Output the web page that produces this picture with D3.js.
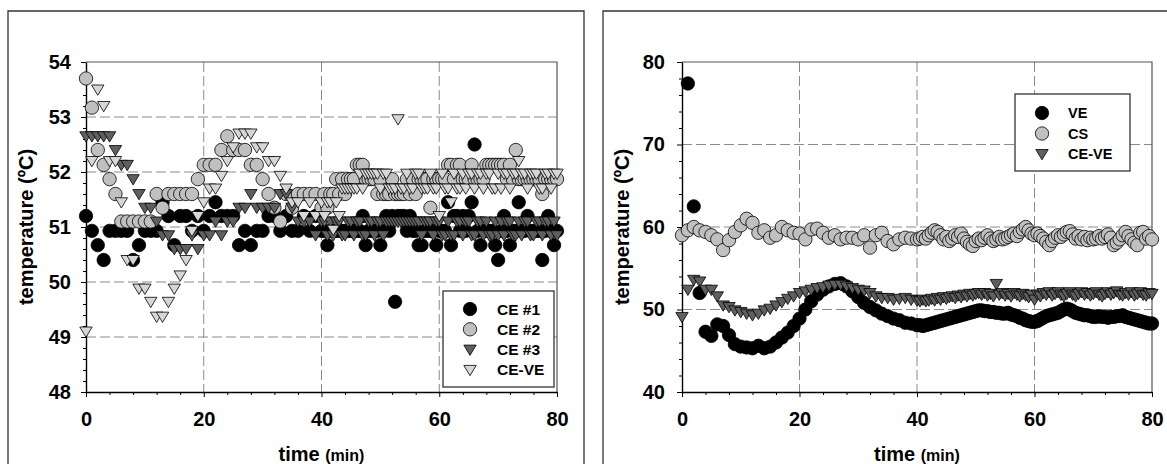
<!DOCTYPE html>
<html>
<head>
<meta charset="utf-8">
<script src="https://cdnjs.cloudflare.com/ajax/libs/d3/7.8.5/d3.min.js"></script>
<style>
body { margin: 0; background: #fff; }
svg { display: block; font-family: "Liberation Sans", Arial, sans-serif; font-weight: bold; }
</style>
</head>
<body>
<svg id="chart" width="1167" height="464"></svg>
<script>
"use strict";

// sampling times (min): every minute up to 40, then every half minute
var time = [0,1,2,3,4,5,6,7,8,9,10,11,12,13,14,15,16,17,18,19,20,
  21,22,23,24,25,26,27,28,29,30,31,32,33,34,35,36,37,38,39,40,
  40.5,41,41.5,42,42.5,43,43.5,44,44.5,45,45.5,46,46.5,47,47.5,48,48.5,49,49.5,50,
  50.5,51,51.5,52,52.5,53,53.5,54,54.5,55,55.5,56,56.5,57,57.5,58,58.5,59,59.5,60,
  60.5,61,61.5,62,62.5,63,63.5,64,64.5,65,65.5,66,66.5,67,67.5,68,68.5,69,69.5,70,
  70.5,71,71.5,72,72.5,73,73.5,74,74.5,75,75.5,76,76.5,77,77.5,78,78.5,79,79.5,80];

// left panel
var ce1 = [51.2,50.93,50.67,50.4,50.93,50.93,50.93,50.93,50.4,50.67,
  50.93,50.93,50.93,51.45,51.2,50.67,51.2,51.2,50.93,51.2,
  50.93,51.2,51.45,51.2,51.2,51.2,50.67,50.93,50.67,50.93,
  50.93,51.2,51.2,50.93,51.2,50.93,50.93,51.2,50.93,51.2,
  50.93,
  50.93,50.67,50.93,50.93,50.93,50.93,50.93,50.93,50.93,50.93,
  50.93,50.93,50.93,51.2,50.67,50.93,50.93,50.93,50.93,50.67,
  50.93,51.2,50.93,51.2,49.64,51.2,51.2,51.2,50.93,51.2,
  50.93,50.93,50.67,50.67,50.93,50.93,50.93,50.93,50.67,50.93,
  50.93,50.93,51.45,50.67,51.2,51.2,50.93,51.2,50.93,51.2,
  51.45,52.5,50.93,50.67,50.93,50.93,50.93,50.93,50.67,50.4,
  50.93,51.2,50.93,50.67,50.93,50.93,51.45,50.93,50.93,51.2,
  50.93,50.93,50.93,50.93,50.4,50.93,51.2,50.93,50.67,50.93];
var ce2 = [53.7,53.17,52.4,52.13,51.87,51.6,51.1,51.1,51.1,51.1,
  51.1,51.1,51.6,51.35,51.6,51.6,51.6,51.6,51.6,51.87,
  52.13,52.13,52.13,52.4,52.65,52.4,52.4,52.4,52.13,52.13,
  51.87,51.6,51.35,51.1,51.6,51.35,51.6,51.6,51.6,51.6,
  51.35,
  51.6,51.35,51.6,51.6,51.87,51.6,51.87,51.6,51.87,51.87,
  51.87,52.13,52.13,52.13,51.87,51.87,51.87,51.87,51.6,51.87,
  51.6,51.6,51.6,51.87,51.6,51.6,51.6,51.6,51.87,51.6,
  51.87,51.6,51.87,51.87,51.87,51.87,51.35,51.87,51.87,51.87,
  51.87,51.87,52.13,52.13,51.87,52.13,52.13,51.87,51.87,51.87,
  52.13,51.87,51.87,51.87,51.87,52.13,52.13,52.13,52.13,52.13,
  52.13,52.13,51.87,52.13,51.87,52.4,51.87,51.87,51.87,51.87,
  51.87,51.87,51.87,51.87,51.6,51.87,51.87,51.87,51.87,51.87];
var ce3 = [52.65,52.65,52.65,52.65,52.65,52.4,52.13,52.13,51.87,51.6,
  51.35,51.35,51.1,50.85,50.85,50.6,50.6,50.6,50.85,50.6,
  50.85,50.85,51.1,50.85,51.1,51.1,51.35,51.35,51.6,51.35,
  51.35,51.35,51.35,51.6,51.6,51.35,51.1,51.1,51.1,50.85,
  51.1,
  51.1,50.85,51.1,50.85,51.1,51.1,50.85,50.85,51.1,51.1,
  50.85,51.1,51.1,50.85,50.85,51.1,51.1,50.85,51.1,51.1,
  50.85,51.1,51.1,51.1,51.1,51.1,51.1,51.1,51.1,51.1,
  51.1,51.1,51.1,50.85,51.1,51.1,51.1,50.85,51.1,51.1,
  50.85,50.85,51.1,50.85,50.85,51.1,51.1,50.85,51.1,51.1,
  50.85,50.85,51.1,51.1,50.85,51.1,50.85,50.85,51.1,50.85,
  51.1,50.85,51.1,51.1,50.85,50.85,51.1,50.85,51.1,51.1,
  50.85,50.85,51.1,51.1,50.85,51.1,51.1,50.85,51.1,50.85];
var ceveL = [49.1,52.2,53.5,53.2,52.2,52.2,51.45,50.4,50.4,49.88,
  49.88,49.64,49.37,49.37,49.64,49.88,50.12,50.4,50.93,51.2,
  51.45,51.7,51.7,51.93,52.2,52.45,52.7,52.7,52.7,52.45,
  52.45,52.2,52.2,51.93,51.7,51.45,51.45,51.2,51.45,51.2,
  51.45,
  51.2,51.45,51.45,50.95,51.45,51.2,51.7,51.7,51.7,51.7,
  51.7,51.7,51.97,51.7,51.97,51.97,51.97,51.97,51.97,51.7,
  51.97,51.97,51.7,51.7,51.7,52.96,51.7,51.7,51.97,51.7,
  51.7,51.97,51.97,51.7,51.7,51.7,51.97,51.7,51.7,51.2,
  51.97,51.7,51.7,51.45,51.97,51.7,51.7,51.97,51.7,51.97,
  51.97,51.7,51.97,51.97,51.7,51.97,51.97,51.7,51.7,51.97,
  51.7,51.97,51.97,51.7,51.97,51.97,52.2,51.97,51.97,51.7,
  51.97,51.97,51.97,51.7,51.7,51.97,51.97,51.7,51.97,51.97];

// right panel
var ve = [null,77.4,62.5,52.0,47.3,46.8,48.2,48.0,46.9,45.8,
  45.5,45.4,45.3,45.6,45.3,45.5,46.0,46.6,47.2,48.0,
  48.9,50.0,51.0,51.8,52.4,52.8,53.1,53.2,52.8,52.2,
  51.5,50.8,50.3,49.9,49.5,49.2,48.9,48.7,48.4,48.3,
  48.1,
  48.1,48.0,48.1,48.2,48.3,48.4,48.5,48.6,48.7,48.8,
  48.9,49.0,49.1,49.2,49.3,49.4,49.5,49.6,49.7,49.8,
  49.9,49.9,49.8,49.8,49.7,49.7,49.6,49.6,49.5,49.5,
  49.6,49.4,49.3,49.2,49.0,48.9,48.7,48.6,48.5,48.5,
  48.6,48.8,49.0,49.2,49.3,49.4,49.5,49.6,49.8,50.0,
  50.1,50.0,49.8,49.6,49.5,49.4,49.3,49.3,49.2,49.1,
  49.1,49.2,49.1,49.1,49.0,49.1,49.1,49.2,49.2,49.3,
  49.1,49.0,48.9,48.8,48.7,48.6,48.5,48.4,48.3,48.3];
var cs = [59.0,59.6,60.0,59.6,59.4,59.0,58.5,57.2,58.4,59.4,
  60.2,61.0,60.5,59.3,59.6,58.7,59.0,60.0,59.6,59.3,
  59.2,58.5,59.7,59.8,59.3,58.7,59.0,58.5,58.7,58.7,
  58.5,59.0,57.5,59.0,59.3,58.3,57.9,58.5,58.7,58.6,
  58.5,
  58.6,58.8,58.6,59.0,59.3,59.6,59.4,59.0,58.5,58.8,
  58.3,58.6,59.0,58.8,59.2,58.6,58.2,57.9,57.7,58.3,
  58.6,58.4,58.7,59.0,58.6,58.3,58.5,58.8,58.5,58.6,
  58.8,59.0,59.2,58.9,59.4,59.7,60.0,59.6,59.2,59.0,
  59.2,58.9,58.6,58.2,57.8,58.3,58.7,59.0,58.8,59.1,
  59.4,59.5,59.1,58.6,58.9,58.5,58.8,58.4,58.7,58.5,
  58.6,58.9,58.6,58.8,59.1,58.7,57.8,58.1,58.5,59.0,
  59.4,58.9,58.5,58.1,57.8,59.3,59.4,58.6,58.9,58.5];
var ceveR = [49.1,52.4,53.6,53.4,52.4,52.4,51.6,50.5,50.3,49.9,
  49.7,49.5,49.3,49.5,49.9,50.1,50.5,50.9,51.3,51.6,
  52.0,52.2,52.4,52.6,52.7,52.9,53.0,53.0,52.8,52.6,
  52.4,52.3,52.0,51.6,51.4,51.4,51.2,51.3,51.4,51.2,
  51.1,
  51.0,51.2,51.0,51.1,51.3,51.1,51.4,51.2,51.5,51.3,
  51.5,51.6,51.4,51.7,51.5,51.8,51.6,51.9,51.7,51.9,
  52.0,51.8,52.0,51.7,51.9,51.6,53.1,51.8,52.0,51.7,
  51.9,51.6,52.0,51.8,51.6,51.9,51.7,51.5,51.8,51.2,
  51.8,51.6,52.0,51.8,52.1,51.7,51.9,52.1,51.8,51.6,
  51.9,52.1,51.8,51.6,51.9,52.1,51.8,52.0,51.7,51.9,
  52.1,51.8,51.6,51.9,52.1,51.8,52.0,52.2,51.8,51.7,
  52.0,51.8,52.1,51.7,51.9,52.1,51.8,51.7,52.0,51.9];

var xTicks = [0, 20, 40, 60, 80];
var xMinor = [4,8,12,16,24,28,32,36,44,48,52,56,64,68,72,76];
var yTicksL = [48, 49, 50, 51, 52, 53, 54];
var yTicksR = [40, 50, 60, 70, 80];

var triPath = "M-6.2,-4.5L6.2,-4.5L0,5.8Z";
var circlePath = d3.symbol(d3.symbolCircle, 140)();

var svg = d3.select("#chart");

function drawPanel(p) {
  var x = d3.scaleLinear().domain([0, 80]).range([p.left, p.right]);
  var y = d3.scaleLinear().domain(p.yDomain).range([p.bottom, p.top]);
  var g = svg.append("g");

  // outer frame of the panel (cut at the bottom of the picture)
  g.append("path")
    .attr("d", "M" + p.frame[0] + ",470V11H" + p.frame[1] + "V470")
    .attr("fill", "none").attr("stroke", "#333").attr("stroke-width", 1.3);

  // dashed grid
  var yGrid = p.yTicks.slice(1, -1);
  g.selectAll(".vg").data([20, 40, 60]).enter().append("line")
    .attr("x1", function(d) { return x(d); }).attr("x2", function(d) { return x(d); })
    .attr("y1", p.top).attr("y2", p.bottom)
    .attr("stroke", "#8a8a8a").attr("stroke-width", 1).attr("stroke-dasharray", "10,4");
  g.selectAll(".hg").data(yGrid).enter().append("line")
    .attr("x1", p.left).attr("x2", p.right)
    .attr("y1", function(d) { return y(d); }).attr("y2", function(d) { return y(d); })
    .attr("stroke", "#8a8a8a").attr("stroke-width", 1).attr("stroke-dasharray", "10,4");

  // top and right border of the plot
  g.append("path")
    .attr("d", "M" + p.left + "," + p.top + "H" + p.right + "V" + p.bottom)
    .attr("fill", "none").attr("stroke", "#555").attr("stroke-width", 1.2);

  // minor ticks
  g.append("g").attr("transform", "translate(" + p.left + ",0)")
    .call(d3.axisLeft(y).tickValues(p.yMinor).tickSize(3).tickSizeOuter(0).tickFormat(""))
    .call(function(a) { a.select(".domain").remove(); });
  g.append("g").attr("transform", "translate(0," + p.bottom + ")")
    .call(d3.axisBottom(x).tickValues(xMinor).tickSize(3).tickSizeOuter(0).tickFormat(""))
    .call(function(a) { a.select(".domain").remove(); });

  // main axes
  var ya = g.append("g").attr("transform", "translate(" + p.left + ",0)")
    .call(d3.axisLeft(y).tickValues(p.yTicks).tickFormat(d3.format("d"))
      .tickSize(5).tickSizeOuter(0).tickPadding(p.yPad));
  var xa = g.append("g").attr("transform", "translate(0," + p.bottom + ")")
    .call(d3.axisBottom(x).tickValues(xTicks).tickFormat(d3.format("d"))
      .tickSize(5).tickSizeOuter(0).tickPadding(15));
  [ya, xa].forEach(function(a) {
    a.selectAll("text").attr("font-size", 20).attr("font-family", null)
      .attr("font-weight", "bold").attr("fill", "#000");
    a.select(".domain").attr("stroke-width", 1.4);
  });

  // axis titles
  g.append("text")
    .attr("transform", "translate(" + p.yTitleX + "," + ((p.top + p.bottom) / 2) + ") rotate(-90)")
    .attr("text-anchor", "middle").attr("font-size", 20).attr("dy", "0.35em")
    .text("temperature (ºC)");
  var xt = g.append("text")
    .attr("x", (p.left + p.right) / 2).attr("y", 461)
    .attr("text-anchor", "middle");
  xt.append("tspan").attr("font-size", 20).text("time ");
  xt.append("tspan").attr("font-size", 16).text("(min)");

  // data
  p.series.forEach(function(s) {
    var pts = time.map(function(t, i) { return [t, s.values[i]]; })
      .filter(function(d) { return d[1] != null; });
    g.append("g").selectAll("path").data(pts).enter().append("path")
      .attr("transform", function(d) { return "translate(" + x(d[0]) + "," + y(d[1]) + ")"; })
      .attr("d", s.shape === "tri" ? triPath : circlePath)
      .attr("fill", s.fill).attr("stroke", "#000").attr("stroke-width", 0.8);
  });

  // legend
  var L = p.legend;
  g.append("rect")
    .attr("x", L.x).attr("y", L.y).attr("width", L.w).attr("height", L.h)
    .attr("fill", "#fff").attr("stroke", "#333").attr("stroke-width", 1.3);
  p.series.forEach(function(s, i) {
    var cy = L.y + L.first + i * L.step;
    g.append("path")
      .attr("transform", "translate(" + (L.x + L.mx) + "," + cy + ")")
      .attr("d", s.shape === "tri" ? triPath : circlePath)
      .attr("fill", s.fill).attr("stroke", "#000").attr("stroke-width", 0.8);
    g.append("text")
      .attr("x", L.x + L.tx).attr("y", cy).attr("dy", "0.36em")
      .attr("font-size", L.fs).text(s.name);
  });
}

drawPanel({
  left: 86, right: 557, top: 62, bottom: 392,
  frame: [8, 584],
  yDomain: [48, 54], yTicks: yTicksL,
  yMinor: [48.2,48.4,48.6,48.8,49.2,49.4,49.6,49.8,50.2,50.4,50.6,50.8,
           51.2,51.4,51.6,51.8,52.2,52.4,52.6,52.8,53.2,53.4,53.6,53.8],
  yPad: 10, yTitleX: 26,
  series: [
    { name: "CE #1", values: ce1, shape: "circle", fill: "#000" },
    { name: "CE #2", values: ce2, shape: "circle", fill: "#c0c0c0" },
    { name: "CE #3", values: ce3, shape: "tri", fill: "#5f5f5f" },
    { name: "CE-VE", values: ceveL, shape: "tri", fill: "#d6d6d6" }
  ],
  legend: { x: 443, y: 291, w: 111, h: 96, first: 18, step: 20.3, mx: 27, tx: 54, fs: 15.5 }
});

drawPanel({
  left: 682, right: 1152, top: 62, bottom: 392,
  frame: [603, 1175],
  yDomain: [40, 80], yTicks: yTicksR,
  yMinor: [42,44,46,48,52,54,56,58,62,64,66,68,72,74,76,78],
  yPad: 12, yTitleX: 622,
  series: [
    { name: "VE", values: ve, shape: "circle", fill: "#000" },
    { name: "CS", values: cs, shape: "circle", fill: "#c0c0c0" },
    { name: "CE-VE", values: ceveR, shape: "tri", fill: "#5f5f5f" }
  ],
  legend: { x: 1015, y: 94, w: 115, h: 77, first: 19, step: 20.5, mx: 27, tx: 53, fs: 14.5 }
});
</script>
</body>
</html>
